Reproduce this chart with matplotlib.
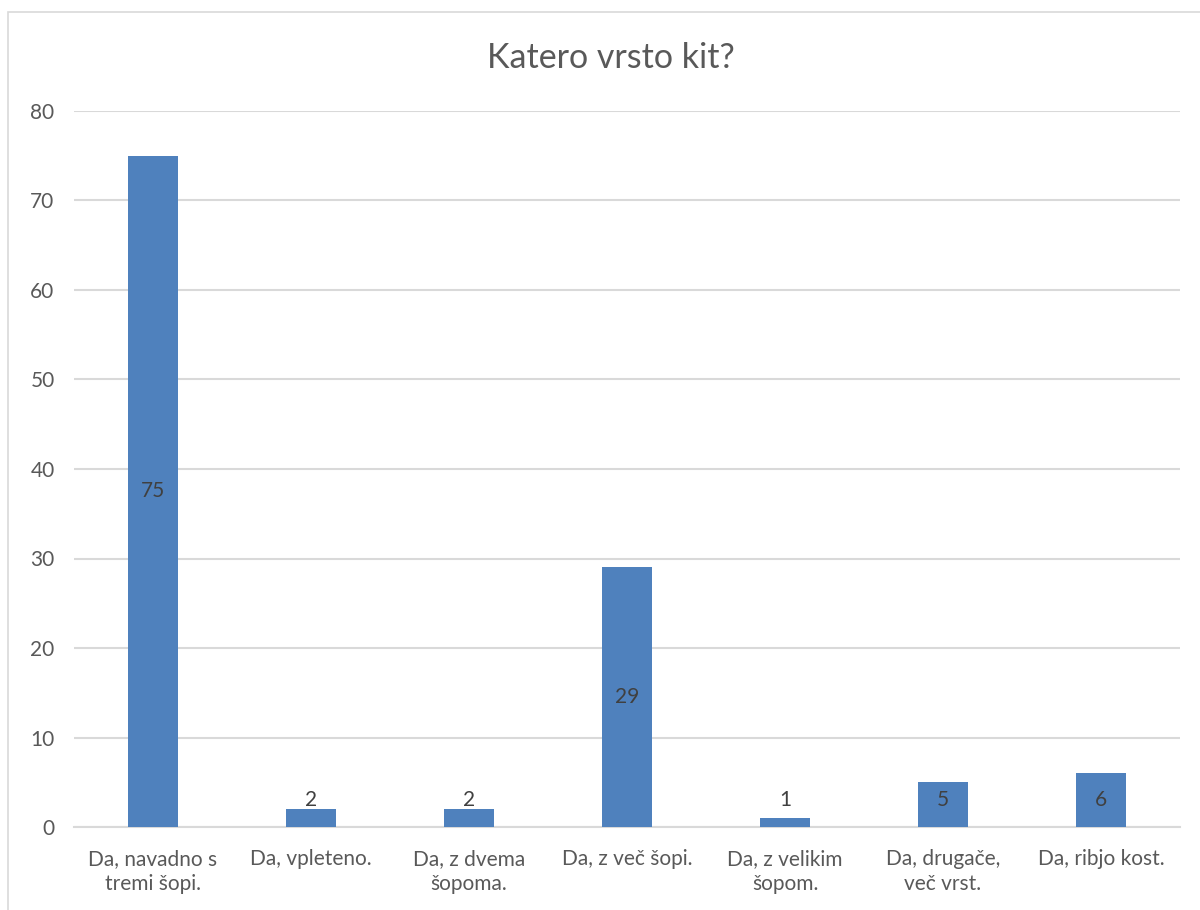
import matplotlib
matplotlib.use("Agg")
import matplotlib.pyplot as plt
from matplotlib.patches import Rectangle

categories = ["Da, navadno s\ntremi šopi.", "Da, vpleteno.", "Da, z dvema\nšopoma.",
              "Da, z več šopi.", "Da, z velikim\nšopom.", "Da, drugače,\nveč vrst.",
              "Da, ribjo kost."]
values = [75, 2, 2, 29, 1, 5, 6]
yticks = [0, 10, 20, 30, 40, 50, 60, 70, 80]
title = "Katero vrsto kit?"

plt.rcParams['font.family'] = ['Lato', 'DejaVu Sans']
W, H = 1200, 910
fig = plt.figure(figsize=(W/100, H/100), dpi=100)
ax = fig.add_axes([74/W, 1-827/H, (1180-74)/W, (827-111)/H])

x = list(range(len(categories)))
bars = ax.bar(x, values, width=0.316, color="#4F81BD", zorder=3)
for xi, v in zip(x, values):
    ax.text(xi, max(v/2, 3), str(v), ha="center", va="center", fontsize=15,
            color="#404040", zorder=4)

ax.set_xlim(-0.5, len(categories)-0.5)
ax.set_ylim(0, 80)
ax.set_yticks(yticks)
ax.set_yticklabels([str(t) for t in yticks], fontsize=15, color="#595959")
ax.set_xticks(x)
ax.set_xticklabels(categories, fontsize=15, color="#595959", linespacing=1.3)
ax.tick_params(axis="both", length=0)
ax.tick_params(axis="y", pad=14)
ax.tick_params(axis="x", pad=16)
ax.grid(axis="y", color="#D9D9D9", linewidth=1.5, zorder=0)
for s in ["top", "right", "left"]:
    ax.spines[s].set_visible(False)
ax.spines["bottom"].set_color("#D9D9D9")
ax.spines["bottom"].set_linewidth(1.5)

fig.text(611/W, 1-58/H, title, ha="center", va="center", fontsize=24.5, color="#595959")

fig.patches.append(Rectangle((8/W, -0.2), 1.2, 1-12/H+0.2, transform=fig.transFigure,
                             fill=False, edgecolor="#D9D9D9", linewidth=1.2))

fig.savefig("out.png", dpi=100)
